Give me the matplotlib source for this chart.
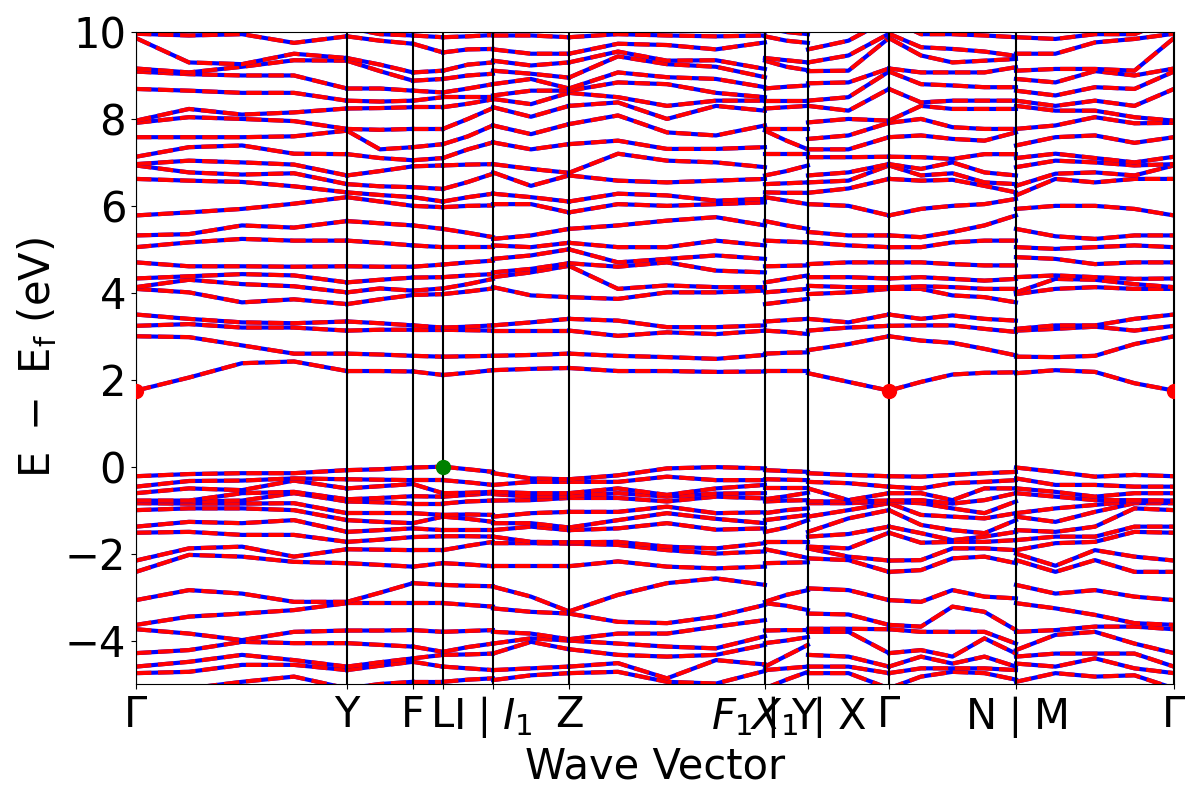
import numpy as np
import matplotlib
matplotlib.use("Agg")
import matplotlib.pyplot as plt

# ---------------- data ----------------
tick_pos = [0.0, 2.11, 2.77, 3.07, 3.57, 4.33, 6.29, 6.72, 7.53, 8.80, 10.38]
tick_labels = [r"$\Gamma$", "Y", "F", "L", r"I$\mid$$I_1$", "Z", r"$F_1$$\mid$Y",
               r"$X_1$$\mid$X", r"$\Gamma$", r"N$\mid$M", r"$\Gamma$"]

# k-positions of sampled columns (duplicates mark path breaks)
k_cols = [0.0, 0.53, 1.06, 1.58, 2.11, 2.44, 2.77, 3.07, 3.32, 3.57,
          3.57, 3.95, 4.33, 4.82, 5.31, 5.80, 6.29,
          6.29, 6.505, 6.72,
          6.72, 7.125, 7.53, 7.85, 8.165, 8.485, 8.80,
          8.80, 9.195, 9.59, 9.985, 10.38]
# (first column, last column) of each continuous branch
branches = [(0, 4), (4, 6), (6, 7), (7, 9), (10, 12), (12, 16),
            (17, 19), (20, 22), (22, 26), (27, 31)]

# conduction / valence energies (eV) at Gamma and Y
cond_gamma = [1.75, 3.00, 3.24, 3.50, 4.09, 4.13, 4.33, 4.70, 5.05, 5.32, 5.78, 6.62,
              6.93, 6.96, 7.13, 7.58, 7.91, 7.96, 8.69, 9.09, 9.16, 9.86, 9.96, 10.3]
cond_y = [2.2, 2.6, 3.13, 3.34, 3.74, 4.01, 4.24, 4.61, 5.20, 5.65, 6.20, 6.31,
          6.50, 6.70, 7.19, 7.73, 7.77, 8.24, 8.42, 8.70, 9.34, 9.40, 9.90, 10.1]
val_gamma = [-0.22, -0.46, -0.61, -0.78, -0.81, -0.84, -1.0, -1.38, -1.52, -2.16,
             -2.42, -3.07, -3.64, -3.74, -4.29, -4.60, -4.75, -5.1]
val_y = [-0.08, -0.29, -0.5, -0.75, -0.8, -1.07, -1.23, -1.50, -1.73, -1.90,
         -2.22, -3.11, -3.14, -3.77, -4.06, -4.60, -4.68, -5.1]

cond_cols = [
    cond_gamma,
    [2.05, 2.98, 3.28, 3.40, 4.01, 4.30, 4.38, 4.61, 5.16, 5.35, 5.85, 6.58, 6.77, 7.04, 7.35, 7.58, 8.04, 8.23, 8.65, 9.03, 9.07, 9.30, 9.92, 10.3],
    [2.38, 2.79, 3.20, 3.32, 3.78, 4.20, 4.43, 4.61, 5.24, 5.55, 5.93, 6.55, 6.72, 7.0, 7.39, 7.58, 8.0, 8.1, 8.6, 9.0, 9.2, 9.26, 9.95, 10.25],
    [2.42, 2.6, 3.20, 3.30, 3.85, 4.15, 4.40, 4.60, 5.20, 5.50, 6.05, 6.45, 6.75, 6.95, 7.2, 7.6, 7.95, 8.15, 8.6, 9.0, 9.35, 9.5, 9.75, 10.2],
    cond_y,
    [2.2, 2.58, 3.15, 3.3, 3.85, 4.1, 4.3, 4.6, 5.15, 5.6, 6.1, 6.25, 6.45, 6.8, 7.1, 7.3, 7.75, 8.25, 8.4, 8.7, 9.1, 9.25, 9.8, 9.95],
    [2.19, 2.55, 3.15, 3.25, 3.95, 4.05, 4.35, 4.6, 5.09, 5.55, 6.0, 6.20, 6.43, 6.91, 7.05, 7.35, 7.77, 8.27, 8.42, 8.65, 8.88, 9.07, 9.73, 9.92],
    [2.11, 2.53, 3.15, 3.2, 3.97, 4.1, 4.36, 4.65, 5.05, 5.47, 5.97, 6.1, 6.39, 6.93, 7.1, 7.42, 7.77, 8.27, 8.5, 8.61, 8.92, 9.11, 9.53, 9.88],
    [2.16, 2.54, 3.14, 3.22, 4.03, 4.2, 4.4, 4.7, 5.05, 5.38, 6.0, 6.2, 6.55, 6.95, 7.3, 7.6, 8.0, 8.35, 8.5, 8.7, 9.0, 9.25, 9.6, 9.9],
    [2.22, 2.55, 3.13, 3.25, 4.1, 4.32, 4.43, 4.74, 5.05, 5.28, 6.01, 6.28, 6.74, 6.96, 7.46, 7.85, 8.25, 8.45, 8.5, 8.8, 9.04, 9.3, 9.61, 9.93],
    [2.22, 2.55, 3.13, 3.25, 4.13, 4.36, 4.47, 4.78, 5.09, 5.24, 6.04, 6.28, 6.77, 6.96, 7.46, 7.85, 8.27, 8.46, 8.54, 8.8, 9.11, 9.34, 9.6, 9.92],
    [2.25, 2.57, 3.13, 3.32, 3.94, 4.47, 4.55, 4.86, 5.05, 5.32, 6.04, 6.2, 6.46, 6.85, 7.3, 7.65, 8.05, 8.34, 8.65, 8.92, 9.04, 9.23, 9.5, 9.92],
    [2.27, 2.6, 3.13, 3.4, 3.9, 4.62, 4.68, 5.0, 5.15, 5.47, 5.85, 6.1, 6.7, 6.76, 7.42, 7.88, 8.3, 8.6, 8.65, 8.7, 8.95, 9.3, 9.5, 9.88],
    [2.2, 2.55, 3.01, 3.36, 3.86, 4.09, 4.6, 4.7, 5.05, 5.55, 6.04, 6.28, 6.58, 7.2, 7.5, 8.08, 8.38, 8.5, 8.84, 9.07, 9.44, 9.55, 9.73, 9.95],
    [2.2, 2.52, 3.09, 3.21, 4.01, 4.17, 4.7, 4.78, 5.05, 5.66, 6.0, 6.24, 6.54, 7.04, 7.31, 7.69, 8.0, 8.3, 8.8, 8.96, 9.26, 9.34, 9.7, 9.92],
    [2.18, 2.48, 3.05, 3.21, 4.01, 4.13, 4.51, 4.86, 5.2, 5.74, 6.04, 6.12, 6.58, 7.0, 7.31, 7.62, 8.3, 8.42, 8.6, 8.92, 9.2, 9.35, 9.6, 9.9],
    [2.19, 2.57, 3.13, 3.25, 4.05, 4.13, 4.47, 4.78, 5.09, 5.55, 6.08, 6.16, 6.62, 6.89, 7.35, 7.85, 8.19, 8.42, 8.5, 8.73, 8.96, 9.15, 9.76, 9.92],
    cond_y,
    [2.2, 2.62, 3.1, 3.37, 3.8, 4.05, 4.32, 4.62, 5.18, 5.55, 6.12, 6.3, 6.52, 6.8, 7.19, 7.5, 7.77, 8.27, 8.42, 8.74, 9.2, 9.35, 9.8, 10.0],
    [2.2, 2.63, 3.05, 3.4, 3.86, 4.09, 4.4, 4.63, 5.16, 5.47, 6.04, 6.3, 6.54, 6.93, 7.19, 7.3, 7.77, 8.3, 8.42, 8.77, 9.12, 9.3, 9.75, 9.95],
    [2.15, 2.68, 3.13, 3.4, 3.97, 4.16, 4.36, 4.66, 5.16, 5.4, 6.04, 6.3, 6.54, 6.7, 7.12, 7.3, 7.54, 7.92, 8.3, 8.42, 8.82, 9.1, 9.3, 9.6],
    [1.95, 2.82, 3.2, 3.32, 4.01, 4.13, 4.36, 4.7, 5.09, 5.32, 6.0, 6.4, 6.58, 6.77, 7.12, 7.3, 7.62, 8.0, 8.19, 8.5, 8.84, 9.11, 9.46, 9.8],
    cond_gamma,
    [1.95, 2.9, 3.25, 3.4, 4.09, 4.15, 4.36, 4.7, 5.05, 5.28, 5.93, 6.58, 6.7, 6.85, 7.12, 7.62, 8.0, 8.3, 8.38, 8.8, 9.07, 9.46, 9.65, 9.95],
    [2.12, 2.85, 3.25, 3.48, 3.94, 4.13, 4.32, 4.66, 5.16, 5.4, 6.0, 6.6, 6.75, 7.0, 7.08, 7.54, 7.81, 8.23, 8.42, 8.77, 9.07, 9.3, 9.61, 9.95],
    [2.16, 2.71, 3.17, 3.4, 3.9, 4.09, 4.28, 4.63, 5.2, 5.55, 6.04, 6.46, 6.54, 6.77, 7.19, 7.5, 7.77, 8.23, 8.42, 8.73, 9.07, 9.34, 9.55, 9.92],
    [2.17, 2.56, 3.1, 3.36, 3.78, 4.09, 4.32, 4.63, 5.2, 5.78, 6.16, 6.31, 6.5, 6.7, 7.19, 7.69, 7.77, 8.23, 8.42, 8.73, 9.19, 9.38, 9.45, 9.88],
    [2.15, 2.53, 3.13, 3.17, 3.97, 4.01, 4.36, 4.82, 5.05, 5.47, 5.93, 6.24, 6.46, 6.89, 7.1, 7.39, 7.77, 8.3, 8.42, 8.65, 8.92, 9.11, 9.5, 9.88],
    [2.22, 2.52, 3.17, 3.25, 4.09, 4.32, 4.4, 4.78, 5.01, 5.3, 6.0, 6.62, 6.74, 7.04, 7.2, 7.58, 7.85, 8.19, 8.3, 8.54, 8.84, 9.15, 9.5, 9.84],
    [2.18, 2.55, 3.22, 3.25, 4.13, 4.3, 4.36, 4.66, 5.05, 5.24, 6.0, 6.54, 6.77, 7.0, 7.1, 7.62, 8.04, 8.19, 8.42, 8.73, 9.1, 9.15, 9.76, 9.95],
    [1.92, 2.82, 3.13, 3.4, 4.09, 4.2, 4.32, 4.7, 5.09, 5.32, 5.93, 6.62, 6.7, 6.93, 7.0, 7.45, 7.9, 8.04, 8.3, 8.69, 9.0, 9.11, 9.84, 9.95],
    cond_gamma,
]

val_cols = [
    val_gamma,
    [-0.17, -0.33, -0.5, -0.78, -0.8, -0.85, -0.96, -1.27, -1.5, -1.88, -2.03, -2.84, -3.45, -3.84, -4.22, -4.49, -4.72, -5.1],
    [-0.15, -0.32, -0.54, -0.61, -0.78, -0.85, -0.96, -1.3, -1.57, -1.84, -2.07, -2.92, -3.38, -3.99, -4.03, -4.33, -4.56, -4.95],
    [-0.15, -0.27, -0.32, -0.58, -0.61, -0.84, -1.0, -1.23, -1.57, -2.07, -2.19, -3.11, -3.3, -3.8, -4.06, -4.45, -4.56, -4.83],
    val_y,
    [-0.06, -0.3, -0.45, -0.72, -0.82, -1.07, -1.27, -1.46, -1.68, -1.91, -2.26, -2.9, -3.14, -3.77, -4.1, -4.5, -4.58, -5.0],
    [-0.02, -0.31, -0.4, -0.68, -0.85, -1.07, -1.3, -1.42, -1.62, -1.92, -2.3, -2.68, -3.14, -3.76, -4.14, -4.41, -4.49, -4.95],
    [0.0, -0.31, -0.61, -0.69, -0.85, -1.11, -1.15, -1.46, -1.6, -1.92, -2.22, -2.72, -3.14, -3.8, -4.26, -4.33, -4.6, -4.95],
    [-0.06, -0.36, -0.6, -0.65, -0.8, -1.1, -1.2, -1.46, -1.6, -1.82, -2.25, -2.74, -3.18, -3.78, -4.15, -4.32, -4.64, -4.9],
    [-0.12, -0.42, -0.58, -0.61, -0.78, -1.11, -1.27, -1.46, -1.61, -1.73, -2.29, -2.75, -3.22, -3.76, -4.07, -4.3, -4.68, -4.87],
    [-0.15, -0.42, -0.58, -0.63, -0.78, -1.15, -1.3, -1.46, -1.61, -1.76, -2.29, -2.76, -3.26, -3.8, -4.07, -4.3, -4.68, -4.91],
    [-0.27, -0.35, -0.61, -0.69, -0.77, -1.07, -1.3, -1.38, -1.73, -1.76, -2.29, -2.99, -3.34, -3.84, -3.95, -4.03, -4.64, -4.8],
    [-0.29, -0.35, -0.61, -0.68, -0.72, -1.04, -1.4, -1.46, -1.74, -1.77, -2.29, -3.33, -3.38, -3.97, -4.0, -4.2, -4.6, -4.75],
    [-0.2, -0.35, -0.5, -0.61, -0.72, -1.04, -1.23, -1.42, -1.73, -1.8, -2.18, -2.95, -3.57, -3.84, -4.07, -4.33, -4.52, -4.72],
    [-0.04, -0.23, -0.65, -0.69, -0.8, -0.92, -1.07, -1.3, -1.84, -1.92, -2.3, -2.68, -3.6, -3.84, -4.14, -4.37, -4.87, -4.95],
    [-0.01, -0.31, -0.5, -0.62, -0.69, -1.07, -1.2, -1.45, -1.88, -2.0, -2.34, -2.57, -3.45, -3.68, -4.18, -4.33, -4.45, -4.99],
    [-0.04, -0.31, -0.42, -0.61, -0.73, -1.05, -1.3, -1.42, -1.76, -1.95, -2.3, -2.72, -3.18, -3.53, -3.9, -4.1, -4.55, -4.7],
    val_y,
    [-0.1, -0.3, -0.5, -0.68, -0.78, -1.0, -1.17, -1.4, -1.73, -2.0, -2.21, -2.95, -3.2, -3.76, -4.0, -4.35, -4.64, -4.9],
    [-0.12, -0.31, -0.5, -0.6, -0.77, -0.96, -1.11, -1.23, -1.73, -2.1, -2.2, -2.84, -3.3, -3.76, -3.92, -4.1, -4.6, -4.72],
    [-0.15, -0.35, -0.5, -0.8, -0.84, -1.15, -1.5, -1.61, -1.84, -1.88, -2.11, -2.8, -3.38, -3.73, -3.8, -4.33, -4.6, -4.75],
    [-0.19, -0.38, -0.77, -0.8, -0.84, -1.0, -1.19, -1.55, -1.88, -2.07, -2.15, -2.84, -3.4, -3.73, -3.8, -4.37, -4.6, -4.75],
    val_gamma,
    [-0.23, -0.5, -0.61, -0.77, -0.84, -1.11, -1.34, -1.53, -1.75, -2.15, -2.38, -3.11, -3.68, -3.8, -4.22, -4.37, -4.64, -4.83],
    [-0.19, -0.38, -0.77, -0.85, -0.96, -1.15, -1.46, -1.69, -1.73, -1.88, -2.11, -2.84, -3.22, -3.8, -4.37, -4.53, -4.64, -4.72],
    [-0.15, -0.35, -0.5, -0.77, -1.07, -1.19, -1.53, -1.61, -1.73, -1.88, -2.07, -2.99, -3.34, -3.8, -3.95, -4.37, -4.64, -4.75],
    [-0.12, -0.31, -0.5, -0.61, -0.8, -1.07, -1.23, -1.5, -1.69, -1.92, -2.22, -3.03, -3.76, -4.07, -4.3, -4.6, -4.68, -4.9],
    [-0.02, -0.27, -0.5, -0.61, -1.07, -1.15, -1.46, -1.69, -1.92, -2.0, -2.15, -2.72, -3.14, -3.8, -4.22, -4.37, -4.53, -4.95],
    [-0.12, -0.42, -0.58, -0.69, -0.96, -1.27, -1.5, -1.61, -1.76, -2.28, -2.42, -2.92, -3.26, -3.76, -3.87, -4.3, -4.6, -4.75],
    [-0.23, -0.42, -0.69, -0.77, -0.88, -1.04, -1.38, -1.61, -1.73, -1.92, -2.15, -2.84, -3.41, -3.68, -3.8, -4.3, -4.41, -4.83],
    [-0.19, -0.46, -0.61, -0.77, -0.8, -0.84, -0.96, -1.38, -1.5, -2.07, -2.42, -2.99, -3.6, -3.68, -4.07, -4.3, -4.64, -4.8],
    val_gamma,
]

# band edges
cbm_k = [0.0, 7.53, 10.38]
cbm_e = [1.75, 1.75, 1.75]
vbm_k = [3.07]
vbm_e = [0.0]

# ---------------- plot ----------------
fig = plt.figure(figsize=(12, 8), dpi=100)
ax = fig.add_axes([0.1133, 0.145, 0.8650, 0.815])

k = np.array(k_cols)
E = np.hstack([np.sort(np.array(val_cols), axis=1), np.sort(np.array(cond_cols), axis=1)])

for (s, e) in branches:
    for b in range(E.shape[1]):
        ax.plot(k[s:e + 1], E[s:e + 1, b], "b-", lw=3)
        ax.plot(k[s:e + 1], E[s:e + 1, b], "r--", lw=3)

for x in tick_pos:
    ax.axvline(x, color="k", lw=1.5)

ax.scatter(cbm_k, cbm_e, color="r", marker="o", s=100, zorder=4)
ax.scatter(vbm_k, vbm_e, color="g", marker="o", s=100, zorder=4)

ax.set_xlim(tick_pos[0], tick_pos[-1])
ax.set_ylim(-5, 10)
ax.set_xticks(tick_pos)
ax.set_xticklabels(tick_labels)
ax.set_yticks([-4, -2, 0, 2, 4, 6, 8, 10])
ax.tick_params(labelsize=30)
ax.set_xlabel("Wave Vector", fontsize=30)
ax.set_ylabel(r"$\mathrm{E\ -\ E_f}$ (eV)", fontsize=30)

fig.savefig("out.png", dpi=100)
